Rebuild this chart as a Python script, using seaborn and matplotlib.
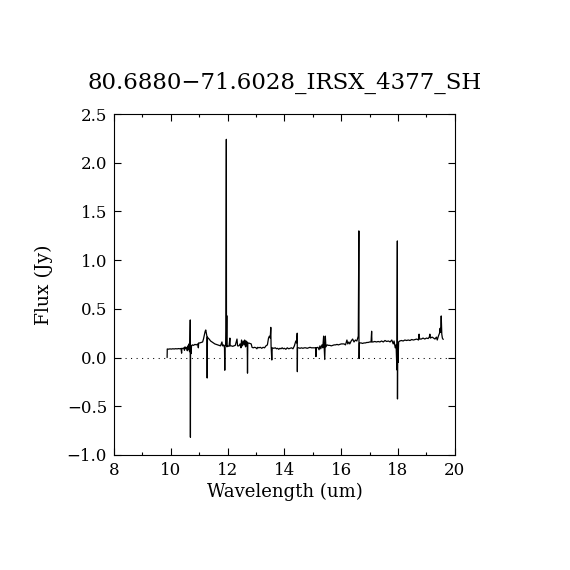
import numpy as np
import pandas as pd
import matplotlib
matplotlib.use("Agg")
import matplotlib.pyplot as plt
import seaborn as sns
from matplotlib.ticker import MultipleLocator, FuncFormatter

title = "80.6880\u221271.6028_IRSX_4377_SH"
xlabel = "Wavelength (um)"
ylabel = "Flux (Jy)"

wavelength = [
    9.87, 9.875, 9.92, 9.97, 10.02, 10.07, 10.12, 10.17, 10.22, 10.27, 10.32, 10.36, 10.38, 10.39,
    10.43, 10.46, 10.48, 10.50, 10.53, 10.56, 10.58, 10.60, 10.62, 10.64, 10.66, 10.675, 10.685,
    10.69, 10.695, 10.71, 10.73, 10.76, 10.80, 10.85, 10.90, 10.95, 10.97, 10.98, 11.02, 11.07,
    11.12, 11.15, 11.18, 11.21, 11.23, 11.25, 11.27, 11.28, 11.29, 11.31, 11.35, 11.40, 11.45,
    11.50, 11.55, 11.60, 11.65, 11.70, 11.75, 11.80, 11.82, 11.86, 11.89, 11.90, 11.91, 11.94,
    11.955, 11.96, 11.97, 11.975, 12.00, 12.05, 12.08, 12.09, 12.13, 12.18, 12.22, 12.27, 12.33,
    12.35, 12.40, 12.44, 12.47, 12.49, 12.52, 12.55, 12.58, 12.60, 12.63, 12.65, 12.67, 12.69,
    12.70, 12.71, 12.74, 12.78, 12.83, 12.86, 12.90, 12.95, 13.00, 13.03, 13.06, 13.10, 13.15,
    13.20, 13.25, 13.30, 13.35, 13.40, 13.44, 13.47, 13.50, 13.52, 13.53, 13.555, 13.57, 13.62,
    13.68, 13.72, 13.76, 13.80, 13.84, 13.88, 13.92, 13.96, 14.00, 14.05, 14.10, 14.15, 14.20,
    14.25, 14.30, 14.35, 14.40, 14.43, 14.45, 14.455, 14.46, 14.50, 14.55, 14.60, 14.65, 14.70,
    14.75, 14.80, 14.85, 14.90, 14.95, 15.00, 15.05, 15.10, 15.11, 15.12, 15.18, 15.22, 15.25,
    15.28, 15.32, 15.35, 15.38, 15.40, 15.42, 15.44, 15.46, 15.50, 15.55, 15.60, 15.65, 15.70,
    15.75, 15.80, 15.85, 15.90, 15.95, 16.00, 16.05, 16.10, 16.15, 16.20, 16.23, 16.27, 16.30,
    16.35, 16.40, 16.45, 16.50, 16.55, 16.60, 16.62, 16.625, 16.63, 16.64, 16.70, 16.75, 16.80,
    16.85, 16.90, 16.95, 17.00, 17.05, 17.07, 17.08, 17.12, 17.18, 17.24, 17.30, 17.36, 17.42,
    17.48, 17.54, 17.60, 17.66, 17.72, 17.78, 17.83, 17.86, 17.90, 17.93, 17.96, 17.975, 17.98,
    17.985, 18.00, 18.02, 18.06, 18.12, 18.18, 18.24, 18.30, 18.36, 18.42, 18.48, 18.54, 18.60,
    18.66, 18.72, 18.74, 18.76, 18.82, 18.88, 18.94, 19.00, 19.06, 19.10, 19.12, 19.14, 19.20,
    19.25, 19.30, 19.35, 19.38, 19.42, 19.46, 19.48, 19.50, 19.52, 19.54, 19.56, 19.59,
]

flux = [
    0.00, 0.088, 0.086, 0.089, 0.087, 0.090, 0.088, 0.091, 0.089, 0.092, 0.090, 0.093, 0.045, 0.095,
    0.092, 0.100, 0.075, 0.110, 0.090, 0.105, 0.070, 0.120, 0.080, 0.140, 0.060, 0.160, 0.386,
    -0.818, 0.130, 0.040, 0.120, 0.130, 0.125, 0.135, 0.130, 0.140, 0.100, 0.150, 0.150, 0.155,
    0.160, 0.190, 0.230, 0.270, 0.283, 0.250, 0.220, -0.210, 0.210, 0.200, 0.190, 0.170, 0.160,
    0.150, 0.140, 0.135, 0.130, 0.125, 0.120, 0.160, 0.120, 0.130, 0.100, -0.130, 0.120, 0.140,
    2.240, 0.120, 0.430, 0.110, 0.120, 0.115, 0.200, 0.120, 0.120, 0.115, 0.120, 0.125, 0.190,
    0.120, 0.120, 0.140, 0.100, 0.180, 0.120, 0.170, 0.130, 0.180, 0.110, 0.170, 0.120, 0.160,
    -0.160, 0.140, 0.150, 0.145, 0.140, 0.105, 0.100, 0.105, 0.100, 0.090, 0.105, 0.100, 0.105,
    0.095, 0.105, 0.100, 0.120, 0.130, 0.200, 0.220, 0.200, 0.310, 0.120, -0.025, 0.100, 0.095,
    0.100, 0.090, 0.095, 0.085, 0.095, 0.090, 0.100, 0.090, 0.095, 0.085, 0.100, 0.090, 0.095,
    0.100, 0.090, 0.120, 0.170, 0.150, 0.250, -0.145, 0.100, 0.100, 0.095, 0.100, 0.095, 0.100,
    0.100, 0.095, 0.100, 0.105, 0.100, 0.100, 0.100, 0.100, 0.010, 0.100, 0.105, 0.080, 0.120,
    0.090, 0.130, 0.100, 0.220, 0.110, -0.020, 0.220, 0.110, 0.130, 0.125, 0.125, 0.120, 0.125,
    0.130, 0.130, 0.135, 0.130, 0.135, 0.140, 0.140, 0.140, 0.130, 0.180, 0.140, 0.160, 0.140,
    0.170, 0.190, 0.160, 0.180, 0.170, 0.220, 1.300, 0.150, -0.010, 0.150, 0.150, 0.145, 0.150,
    0.150, 0.155, 0.155, 0.160, 0.160, 0.270, 0.160, 0.160, 0.165, 0.160, 0.165, 0.160, 0.170,
    0.160, 0.175, 0.165, 0.170, 0.160, 0.180, 0.140, 0.170, 0.100, 0.130, -0.127, 1.197, -0.425,
    0.050, -0.050, 0.160, 0.170, 0.175, 0.170, 0.180, 0.175, 0.180, 0.175, 0.185, 0.180, 0.185,
    0.190, 0.180, 0.240, 0.190, 0.190, 0.200, 0.190, 0.200, 0.195, 0.210, 0.240, 0.200, 0.210,
    0.200, 0.190, 0.210, 0.180, 0.220, 0.250, 0.300, 0.260, 0.427, 0.240, 0.200, 0.186,
]

xlim = (8, 20)
ylim = (-1.0, 2.5)

sns.set_style("ticks")
plt.rcParams["font.family"] = ["DejaVu Serif", "DejaVu Sans"]
plt.rcParams["axes.unicode_minus"] = True
plt.rcParams["text.color"] = "black"
plt.rcParams["axes.labelcolor"] = "black"

df = pd.DataFrame({"wavelength": wavelength, "flux": flux})

fig = plt.figure(figsize=(5.7, 5.7), dpi=100)
ax = fig.add_axes([0.2, 0.2018, 0.598, 0.5982])

ax.axhline(0.0, color="black", linewidth=0.75, linestyle=(0, (1, 4.3)))
sns.lineplot(data=df, x="wavelength", y="flux", sort=False, estimator=None,
             color="black", linewidth=0.9, ax=ax)

ax.set_xlim(*xlim)
ax.set_ylim(*ylim)
ax.xaxis.set_major_locator(MultipleLocator(2))
ax.xaxis.set_minor_locator(MultipleLocator(1))
ax.yaxis.set_major_locator(MultipleLocator(0.5))
ax.yaxis.set_major_formatter(FuncFormatter(lambda v, p: f"{v:.1f}".replace("-", "\u2212")))
ax.xaxis.set_major_formatter(FuncFormatter(lambda v, p: f"{v:g}"))

ax.tick_params(which="both", direction="in", top=True, right=True, colors="black",
               labelcolor="black", labelsize=12, width=0.8)
ax.tick_params(which="major", length=5, pad=5)
ax.tick_params(which="minor", length=2.5)
for s in ax.spines.values():
    s.set_linewidth(0.8)
    s.set_color("black")

ax.set_xlabel(xlabel, fontsize=13, labelpad=3, color="black")
ax.set_ylabel(ylabel, fontsize=13.5, labelpad=10, color="black")
ax.set_title(title, fontsize=16.5, pad=18, color="black")

fig.savefig("out.png", dpi=100, facecolor="white")
